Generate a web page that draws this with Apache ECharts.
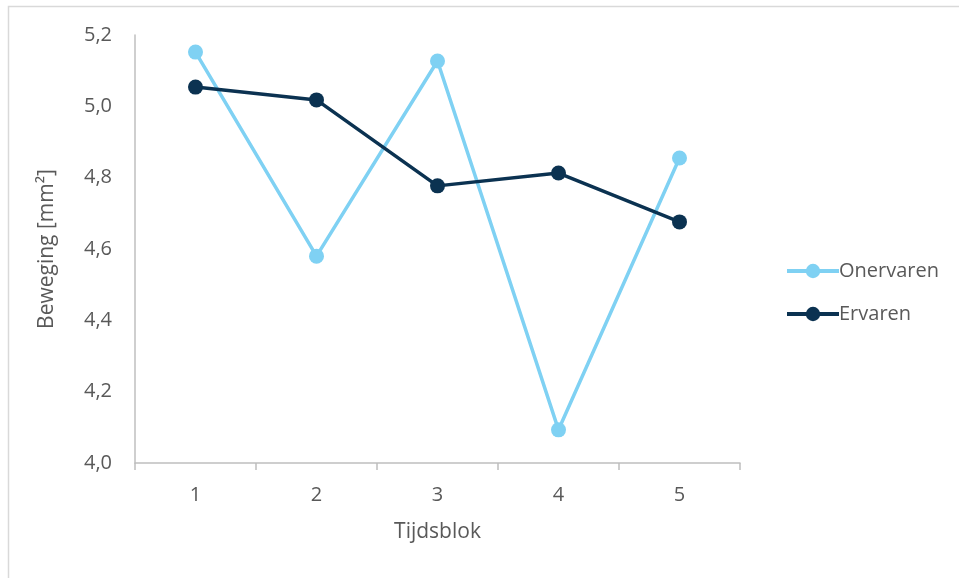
<!DOCTYPE html>
<html>
<head>
<meta charset="utf-8">
<script src="https://cdn.jsdelivr.net/npm/echarts@6/dist/echarts.min.js"></script>
<style>
  html, body { margin: 0; padding: 0; background: #fff; }
  #chart { width: 959px; height: 578px; }
</style>
</head>
<body>
<div id="chart"></div>
<script>
// Tijdsblokken and mean movement per group
var categories = ['1', '2', '3', '4', '5'];
var onervaren = [5.152, 4.580, 5.127, 4.093, 4.855];
var ervaren = [5.054, 5.018, 4.777, 4.813, 4.676];

var FONT = 'Open Sans, Noto Sans, sans-serif';
var TEXT = '#595959';
var AXIS = '#bfbfbf';
var LIGHT = '#7fd1f3';
var DARK = '#0b3251';

var chart = echarts.init(document.getElementById('chart'));
chart.setOption({
  animation: false,
  graphic: [{
    type: 'rect',
    shape: { x: 8.5, y: 6.5, width: 1000, height: 1000 },
    style: { fill: 'none', stroke: '#d9d9d9', lineWidth: 1.5 },
    silent: true,
    z: -1
  }],
  grid: { left: 135, right: 219, top: 35, bottom: 115 },
  legend: {
    orient: 'vertical',
    left: 780,
    top: 256,
    itemWidth: 52,
    itemHeight: 18,
    itemGap: 23,
    lineStyle: { width: 4 },
    textStyle: { fontFamily: FONT, fontSize: 20, color: TEXT, padding: [0, 0, 0, -5] },
    data: ['Onervaren', 'Ervaren']
  },
  xAxis: {
    type: 'category',
    data: categories,
    boundaryGap: true,
    name: 'Tijdsblok',
    nameLocation: 'middle',
    nameGap: 59,
    nameTextStyle: { fontFamily: FONT, fontSize: 21, color: TEXT },
    axisLine: { lineStyle: { color: AXIS, width: 1.5 } },
    axisTick: { show: true, length: 7, lineStyle: { color: AXIS, width: 1.5 } },
    axisLabel: { fontFamily: FONT, fontSize: 20, color: TEXT, margin: 22 }
  },
  yAxis: {
    type: 'value',
    min: 4.0,
    max: 5.2,
    interval: 0.2,
    name: 'Beweging [mm²]',
    nameLocation: 'middle',
    nameGap: 77,
    nameTextStyle: { fontFamily: FONT, fontSize: 21, color: TEXT },
    axisLine: { show: true, lineStyle: { color: AXIS, width: 1.5 } },
    axisTick: { show: false },
    splitLine: { show: false },
    axisLabel: {
      fontFamily: FONT, fontSize: 20, color: TEXT, margin: 23,
      formatter: function (v) { return v.toFixed(1).replace('.', ','); }
    }
  },
  series: [
    {
      name: 'Onervaren',
      type: 'line',
      data: onervaren,
      symbol: 'circle',
      symbolSize: 15,
      lineStyle: { color: LIGHT, width: 3.5 },
      itemStyle: { color: LIGHT }
    },
    {
      name: 'Ervaren',
      type: 'line',
      data: ervaren,
      symbol: 'circle',
      symbolSize: 15,
      lineStyle: { color: DARK, width: 3.5 },
      itemStyle: { color: DARK }
    }
  ]
});
</script>
</body>
</html>
